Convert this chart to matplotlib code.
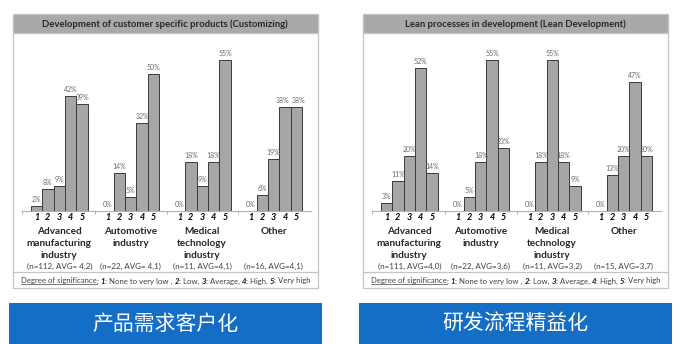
import numpy as np
import matplotlib.pyplot as plt
from matplotlib.patches import Rectangle
from matplotlib.lines import Line2D
from matplotlib.transforms import blended_transform_factory

plt.rcParams['font.family'] = ['Lato', 'Noto Sans CJK SC', 'DejaVu Sans']

W, H = 684, 344

industries = [["Advanced", "manufacturing", "industry"], ["Automotive", "industry"],
              ["Medical", "technology", "industry"], ["Other"]]
levels = ["1", "2", "3", "4", "5"]

custom_title = "Development of customer specific products (Customizing)"
custom_vals = [[2, 8, 9, 42, 39],
               [0, 14, 5, 32, 50],
               [0, 18, 9, 18, 55],
               [0, 6, 19, 38, 38]]
custom_n = ["(n=112, AVG= 4,2)", "(n=22, AVG= 4,1)", "(n=11, AVG=4,1)", "(n=16, AVG=4,1)"]

lean_title = "Lean processes in development (Lean Development)"
lean_vals = [[3, 11, 20, 52, 14],
             [0, 5, 18, 55, 23],
             [0, 18, 55, 18, 9],
             [0, 13, 20, 47, 20]]
lean_n = ["(n=111, AVG=4,0)", "(n=22, AVG=3,6)", "(n=11, AVG=3,2)", "(n=15, AVG=3,7)"]

captions = ["产品需求客户化", "研发流程精益化"]

legend_parts = [("Degree of significance", "u"), (": ", "n"), ("1", "b"), (": None to very low , ", "n"),
                ("2", "b"), (": Low, ", "n"), ("3", "b"), (": Average, ", "n"),
                ("4", "b"), (": High, ", "n"), ("5", "b"), (": Very high", "n")]

fig = plt.figure(figsize=(W / 100, H / 100), dpi=100)


def fx(px):
    return px / W


def fy(py):
    return 1 - py / H


GROUP_STEP = 6.27
UNIT_PX = 11.4


def panel(x0, title, vals, nlabels, caption):
    # outer frame and title strip
    fig.patches.append(Rectangle((fx(x0), fy(288)), fx(305), 273 / H, transform=fig.transFigure,
                                 facecolor='white', edgecolor='#c4c4c4', lw=0.9, zorder=-2))
    fig.patches.append(Rectangle((fx(x0), fy(33)), fx(305), 19 / H, transform=fig.transFigure,
                                 facecolor='#a9a9a9', edgecolor='#c4c4c4', lw=0.9, zorder=-1))
    fig.text(fx(x0 + 152), fy(24), title, ha='center', va='center', fontsize=6.8,
             fontweight='bold', color='#262626')
    fig.lines.append(Line2D([fx(x0), fx(x0 + 305)], [fy(272), fy(272)], transform=fig.transFigure,
                            color='#c4c4c4', lw=0.9))

    ax_l, ax_r = x0 + 9, x0 + 298
    ax = fig.add_axes([fx(ax_l), fy(211), fx(ax_r - ax_l), (211 - 40) / H])
    ax.patch.set_visible(False)
    left = -(x0 + 23.5 - ax_l) / UNIT_PX
    ax.set_xlim(left, left + (ax_r - ax_l) / UNIT_PX)
    ax.set_ylim(0, 171 / 2.75)
    tr = blended_transform_factory(ax.transData, fig.transFigure)

    pos = []
    for g, row in enumerate(vals):
        xs = g * GROUP_STEP + np.arange(len(row))
        pos.extend(xs)
        bars = ax.bar(xs, row, width=1.0, color='#a6a6a6', edgecolor='#3a3a3a', lw=0.7)
        for i, (b, v) in enumerate(zip(bars, row)):
            # push apart labels of equal neighbouring bars
            dx = 0
            if i > 0 and row[i - 1] == v:
                dx = 1.5
            elif i < len(row) - 1 and row[i + 1] == v:
                dx = -1.5
            ax.annotate(f"{v}%", (b.get_x() + b.get_width() / 2, v), xytext=(dx, 2),
                        textcoords='offset points', ha='center', va='bottom',
                        fontsize=5.0, color='#6a6a6a')
        cx = g * GROUP_STEP + 2
        for k, line in enumerate(industries[g]):
            ax.text(cx, fy(232 + 11.5 * k), line, transform=tr, ha='center', va='center',
                    fontsize=7.2, fontweight='bold', color='#262626')
        ax.text(cx, fy(266), nlabels[g], transform=tr, ha='center', va='center',
                fontsize=5.8, color='#404040')

    ax.set_xticks(pos)
    ax.set_xticklabels(levels * len(vals), fontsize=6.5, fontweight='bold', style='italic')
    ax.tick_params(axis='x', length=0, pad=1.5)
    seps = [left + 0.02] + [g * GROUP_STEP + 4.5 + (GROUP_STEP - 5) / 2 for g in range(3)]
    ax.set_xticks(seps, minor=True)
    ax.tick_params(axis='x', which='minor', length=2.5, color='#b0b0b0', width=0.7)
    ax.set_yticks([])
    for s in ['top', 'right', 'left']:
        ax.spines[s].set_visible(False)
    ax.spines['bottom'].set_color('#b0b0b0')
    ax.spines['bottom'].set_linewidth(0.8)

    # blue caption strip
    fig.patches.append(Rectangle((fx(x0 - 4), 0), fx(313), (344 - 303) / H, transform=fig.transFigure,
                                 facecolor='#146ec6', edgecolor='none'))
    fig.text(fx(x0 + 152), fy(324), caption, ha='center', va='center', fontsize=15,
             color='white', family=['Noto Sans CJK SC', 'DejaVu Sans'])
    return x0 + 8


starts = [panel(13, custom_title, custom_vals, custom_n, captions[0]),
          panel(363, lean_title, lean_vals, lean_n, captions[1])]

# significance legend: pieces placed one after another
fig.canvas.draw()
renderer = fig.canvas.get_renderer()
for sx in starts:
    cur = sx
    for txt, kind in legend_parts:
        t = fig.text(fx(cur), fy(281), txt, ha='left', va='center', fontsize=5.6,
                     color='#1a1a1a' if kind == 'b' else '#404040',
                     fontweight='bold' if kind == 'b' else 'normal',
                     style='italic' if kind == 'b' else 'normal')
        bb = t.get_window_extent(renderer)
        if kind == 'u':
            fig.lines.append(Line2D([bb.x0 / W, bb.x1 / W], [(bb.y0 + 0.3) / H] * 2,
                                    transform=fig.transFigure, color='#404040', lw=0.5))
        cur += bb.width

fig.savefig("out.png", dpi=100)
